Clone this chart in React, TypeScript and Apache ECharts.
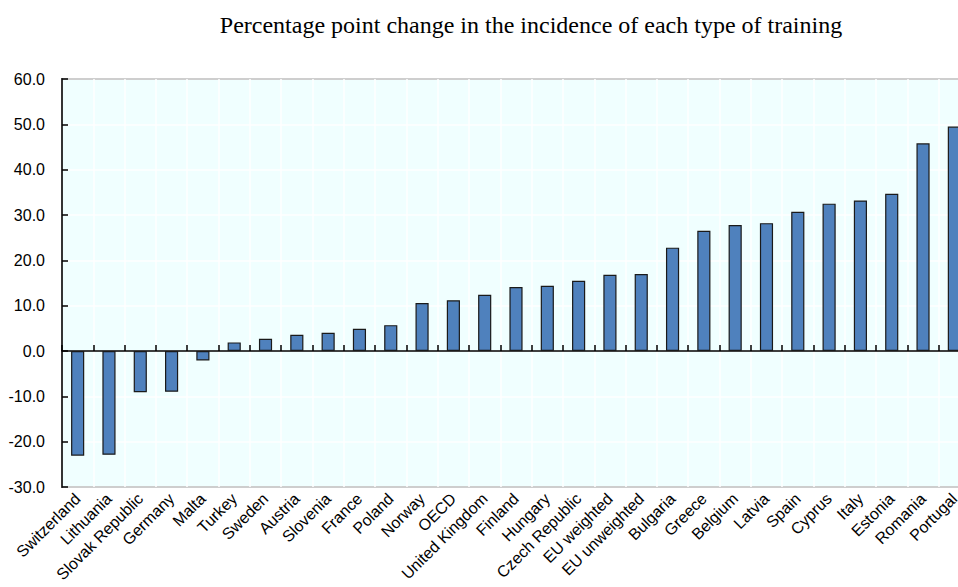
import { useEffect, useRef } from 'react'
import * as echarts from 'echarts'

const countries = [
  'Switzerland', 'Lithuania', 'Slovak Republic', 'Germany', 'Malta', 'Turkey',
  'Sweden', 'Austria', 'Slovenia', 'France', 'Poland', 'Norway', 'OECD',
  'United Kingdom', 'Finland', 'Hungary', 'Czech Republic', 'EU weighted',
  'EU unweighted', 'Bulgaria', 'Greece', 'Belgium', 'Latvia', 'Spain',
  'Cyprus', 'Italy', 'Estonia', 'Romania', 'Portugal',
]

const changes = [
  -23.1, -22.9, -9.1, -9.0, -2.1, 1.9, 2.7, 3.6, 4.0, 4.9, 5.7, 10.6, 11.2,
  12.4, 14.1, 14.4, 15.5, 16.8, 17.0, 22.8, 26.5, 27.8, 28.2, 30.7, 32.5,
  33.2, 34.7, 45.8, 49.5,
]

const titleText = 'Percentage point change in the incidence of each type of training'

export default function App() {
  const chartRef = useRef<HTMLDivElement>(null)

  useEffect(() => {
    if (!chartRef.current) return
    const chart = echarts.init(chartRef.current, undefined, { renderer: 'svg' })

    const option: echarts.EChartsOption = {
      animation: false,
      backgroundColor: '#ffffff',
      title: {
        text: titleText,
        left: 526,
        top: 8,
        textAlign: 'center',
        textStyle: {
          fontFamily: 'Liberation Serif',
          fontWeight: 'normal',
          fontSize: 24,
          color: '#000',
        },
      },
      // the plot runs past the right edge of the picture, Portugal is cut off
      grid: {
        left: 62,
        top: 79,
        right: 1,
        bottom: 100,
        show: true,
        backgroundColor: '#F0FFFF',
        borderColor: '#000',
        borderWidth: 1.5,
      },
      xAxis: {
        type: 'category',
        data: countries,
        boundaryGap: true,
        axisLine: { onZero: true, lineStyle: { color: '#000', width: 1.5 } },
        axisTick: { show: true, inside: true, length: 6, lineStyle: { color: '#000', width: 1.5 } },
        axisLabel: {
          interval: 0,
          rotate: 45,
          margin: 9,
          fontFamily: 'Liberation Sans',
          fontSize: 16,
          color: '#000',
        },
        splitLine: { show: true, interval: 0, lineStyle: { color: '#ffffff', width: 1.5 } },
      },
      yAxis: {
        type: 'value',
        min: -30,
        max: 60,
        interval: 10,
        axisLine: { show: true, lineStyle: { color: '#000', width: 1.5 } },
        axisTick: { show: true, inside: true, length: 6, lineStyle: { color: '#000', width: 1.5 } },
        axisLabel: {
          margin: 17,
          fontFamily: 'Liberation Sans',
          fontSize: 16,
          color: '#000',
          formatter: (v: number) => v.toFixed(1),
        },
        splitLine: { show: true, lineStyle: { color: '#ffffff', width: 1.5 } },
      },
      series: [
        {
          type: 'bar',
          data: changes,
          barWidth: '42%',
          itemStyle: {
            color: '#4F81BD',
            borderColor: '#1a1a1a',
            borderWidth: 1.2,
          },
        },
      ],
    }

    chart.setOption(option)

    return () => {
      chart.dispose()
    }
  }, [])

  return (
    <div
      ref={chartRef}
      style={{ position: 'fixed', left: 0, top: 0, width: 971, height: 587 }}
    />
  )
}
